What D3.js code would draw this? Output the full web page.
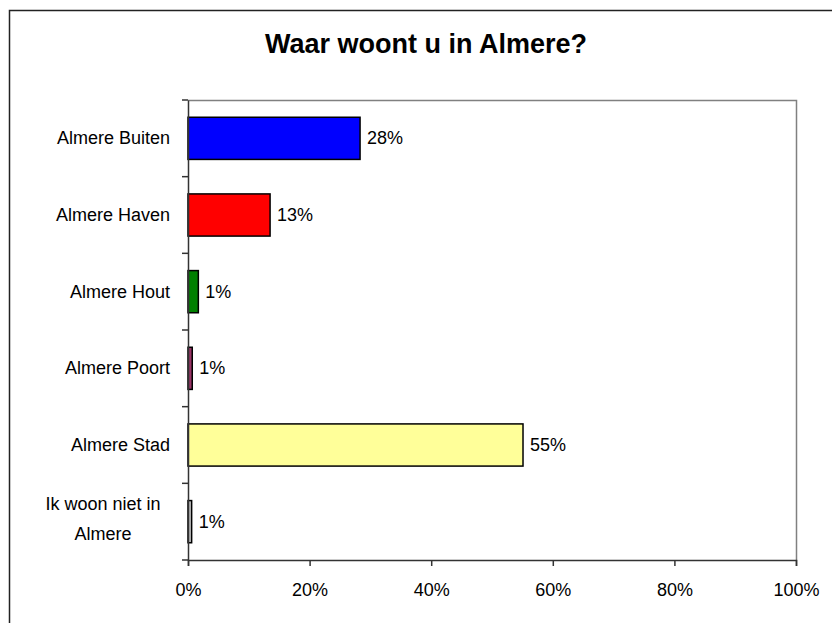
<!DOCTYPE html>
<html>
<head>
<meta charset="utf-8" />
<title>Waar woont u in Almere?</title>
<style>
* { padding: 0; margin: 0; }
body { background: #fff; }
#chart { width: 832px; height: 623px; }
text { font-family: Arial, "Liberation Sans", sans-serif; }
</style>
</head>
<body>
<div id="chart"></div>
<script src="https://cdn.jsdelivr.net/npm/d3@7"></script>
<script>
    var categories = ["Almere Buiten", "Almere Haven", "Almere Hout", "Almere Poort", "Almere Stad", "Ik woon niet in|Almere"]
    var values = [28.3, 13.5, 1.7, 0.7, 55.1, 0.6]
    var labels = ["28%", "13%", "1%", "1%", "55%", "1%"]
    var colors = ["#0000ff", "#ff0000", "#008000", "#993366", "#ffff99", "#c0c0c0"]
    var xTicks = [0, 20, 40, 60, 80, 100]

    var width = 832, height = 623
    var margin = {top: 100, left: 188, bottom: 63, right: 36}

    var svg = d3.select("#chart").append("svg")
        .attr("width", width).attr("height", height)

    // outer frame of the chart area (runs off the picture at right and bottom)
    svg.append("rect")
        .attr("x", 9.5).attr("y", 10.5)
        .attr("width", 840).attr("height", 640)
        .attr("fill", "none").attr("stroke", "#222").attr("stroke-width", 1.5)

    svg.append("text")
        .attr("x", 426).attr("y", 53)
        .attr("text-anchor", "middle")
        .attr("font-size", "27px").attr("font-weight", "bold")
        .text("Waar woont u in Almere?")

    var x = d3.scaleLinear().domain([0, 100]).range([margin.left, width - margin.right])
    var y = d3.scaleBand().domain(categories).range([margin.top, height - margin.bottom]).paddingInner(0.45).paddingOuter(0.225)
    var yb = d3.scaleBand().domain(categories).range([margin.top, height - margin.bottom])

    // plot area border (top + right)
    svg.append("path")
        .attr("d", "M" + x(0) + "," + (margin.top + 0.5) + "H" + (x(100) + 0.5) + "V" + (height - margin.bottom))
        .attr("fill", "none").attr("stroke", "#808080").attr("stroke-width", 1.5)

    svg.selectAll("rect.bar")
        .data(values)
        .enter().append("rect")
        .attr("class", "bar")
        .attr("x", x(0))
        .attr("y", function(d, i) { return y(categories[i]) })
        .attr("width", function(d) { return x(d) - x(0) })
        .attr("height", y.bandwidth())
        .attr("fill", function(d, i) { return colors[i] })
        .attr("stroke", "#000").attr("stroke-width", 1.5)

    svg.selectAll("text.val")
        .data(values)
        .enter().append("text")
        .attr("class", "val")
        .attr("x", function(d) { return x(d) + 7 })
        .attr("y", function(d, i) { return y(categories[i]) + y.bandwidth() / 2 + 6 })
        .attr("font-size", "18px")
        .text(function(d, i) { return labels[i] })

    // y axis
    var yAxis = d3.axisLeft(yb).tickSize(0).tickFormat("")
    var gy = svg.append("g").attr("transform", "translate(" + x(0) + ",0)").call(yAxis)
    gy.select(".domain").attr("stroke", "#333").attr("stroke-width", 1.5)
    gy.selectAll(".bt")
        .data(categories.concat(["end"]))
        .enter().append("line")
        .attr("class", "bt")
        .attr("x1", -6).attr("x2", 0)
        .attr("y1", function(d, i) { return margin.top + i * yb.step() })
        .attr("y2", function(d, i) { return margin.top + i * yb.step() })
        .attr("stroke", "#333").attr("stroke-width", 1.5)

    categories.forEach(function(c) {
        var parts = c.split("|")
        var cy = yb(c) + yb.bandwidth() / 2
        var t = svg.append("text")
            .attr("font-size", "18px")
            .attr("text-anchor", parts.length > 1 ? "middle" : "end")
        parts.forEach(function(p, j) {
            t.append("tspan")
                .attr("x", parts.length > 1 ? 103 : 170)
                .attr("y", parts.length > 1 ? cy + 3 + (j - 0.5) * 30 : cy + 6)
                .text(p)
        })
    })

    // x axis
    var xAxis = d3.axisBottom(x).tickValues(xTicks).tickSize(6).tickPadding(17)
        .tickFormat(function(d) { return d + "%" })
    var gx = svg.append("g").attr("transform", "translate(0," + (height - margin.bottom) + ")").call(xAxis)
    gx.select(".domain").attr("stroke", "#333").attr("stroke-width", 1.5)
    gx.selectAll(".tick line").attr("stroke", "#333").attr("stroke-width", 1.5)
    gx.selectAll(".tick text").attr("font-size", "18px").attr("fill", "#000")
        .attr("font-family", "Arial, 'Liberation Sans', sans-serif")
</script>
</body>
</html>
